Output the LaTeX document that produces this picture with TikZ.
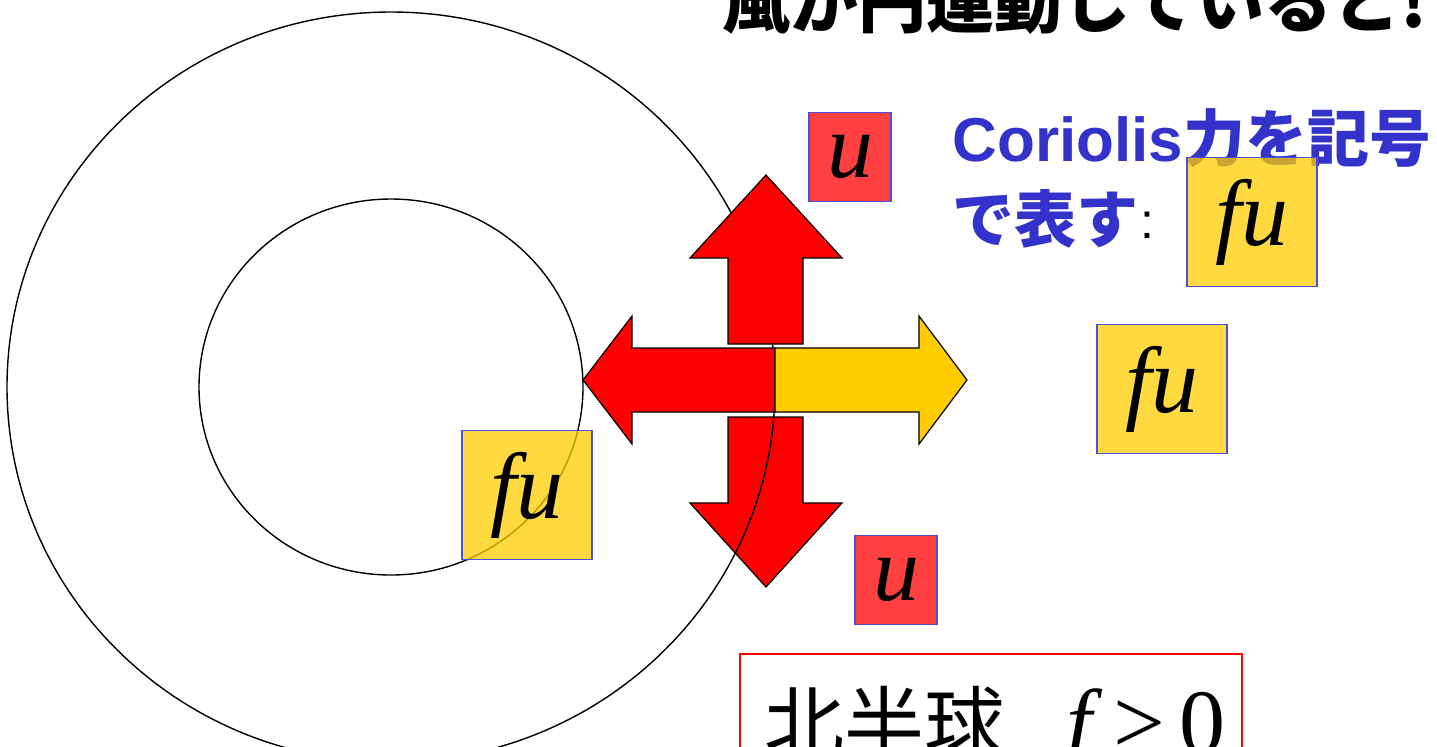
\documentclass[tikz,border=0pt]{standalone}
\usepackage{fontspec}
\setmainfont{Liberation Serif}
\newfontfamily\jpfont{Noto Sans CJK JP}
\newfontfamily\arialfont{Liberation Sans}
\usetikzlibrary{positioning}
\definecolor{coriblue}{RGB}{51,51,204}
\definecolor{boxblue}{RGB}{77,77,224}
\definecolor{arrowyellow}{RGB}{255,204,0}
\tikzset{
  ring/.style={draw=black, line width=0.7pt},
  bigarrow/.style={draw=black, line width=0.6pt, fill=red, line join=miter},
  fubox/.style={draw=boxblue, line width=0.6pt, fill=arrowyellow, fill opacity=0.75, text opacity=1, minimum width=65pt, minimum height=64.5pt, inner sep=0pt, font=\fontsize{47pt}{47pt}\selectfont\itshape},
  ubox/.style={draw=boxblue, line width=0.6pt, fill=red, fill opacity=0.75, text opacity=1, minimum width=41pt, minimum height=44.5pt, inner sep=0pt, font=\fontsize{46pt}{46pt}\selectfont\itshape},
  bluetext/.style={text=coriblue, inner sep=0pt, anchor=base west, font=\fontsize{31pt}{31pt}\selectfont\bfseries},
  headline/.style={inner sep=0pt, anchor=base west, font=\jpfont\fontsize{34pt}{34pt}\selectfont\bfseries},
  hemibox/.style={draw=red, line width=1pt, anchor=north west, inner xsep=12pt, inner ysep=0pt, text width=227pt, align=left, text height=49.5pt, text depth=30pt}
}
\begin{document}
\begin{tikzpicture}[x=0.5pt, y=-0.5pt]
\useasboundingbox (0,0) rectangle (1437,746);
% the arrow pointing down lies under the rings
\filldraw[bigarrow] (728,417) -- (728,503) -- (690,503) -- (766,587) -- (842,503) -- (803,503) -- (803,417) -- cycle;
\draw[ring] (391,387) ellipse [x radius=384, y radius=375];
\draw[ring] (391,387) ellipse [x radius=192, y radius=188];
\filldraw[bigarrow] (775,348) -- (632,348) -- (632,316) -- (583,380) -- (632,444) -- (632,412) -- (775,412) -- cycle;
\filldraw[bigarrow, fill=arrowyellow] (775,348) -- (919,348) -- (919,316) -- (967,380) -- (919,444) -- (919,412) -- (775,412) -- cycle;
\filldraw[bigarrow] (728,344) -- (728,258) -- (690,258) -- (766,175) -- (842,258) -- (803,258) -- (803,344) -- cycle;
% labels on the arrows
\node[ubox] (uN) at (850,157) {u};
\node[ubox] (uS) at (896,580) {u};
\node[fubox] (fuE) at (1162,389) {fu};
\node[fubox] (fuW) at (527,495) {fu};
% texts
\node[headline] (title) at (722,27) {風が円運動していると!};
\node[bluetext] (corA) at (952,161) {{\arialfont Coriolis}{\jpfont 力を記号}};
\node[bluetext] (corB) at (952,242) {\jpfont で表す};
\node[anchor=base west, inner sep=0pt, font=\arialfont\fontsize{25pt}{25pt}\selectfont] (colon) at (1140,238) {:};
\node[fubox] (fuC) at (1252,222) {fu};
\node[hemibox] (hemi) at (739,653) {\mbox{{\jpfont\fontsize{40pt}{40pt}\selectfont 北半球}\hspace{31pt}{\fontsize{46pt}{46pt}\selectfont\itshape f\hspace{11pt}\upshape>\hspace{7pt}0}}};
\end{tikzpicture}
\end{document}
